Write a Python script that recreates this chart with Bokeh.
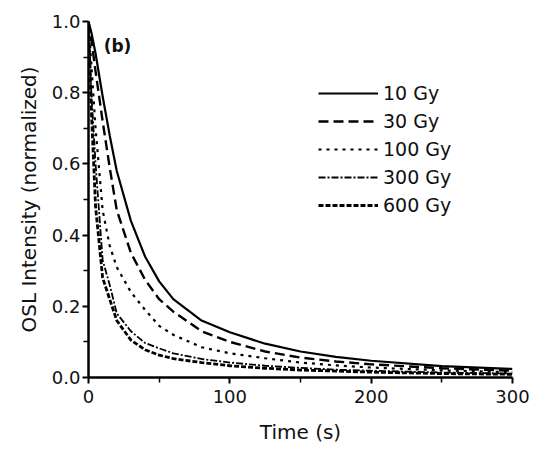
from bokeh.plotting import figure
from bokeh.models import Range1d, Legend, LegendItem, Label, NumeralTickFormatter, FixedTicker
from bokeh.embed import file_html
from bokeh.resources import INLINE

# Time (s)
time_s = [0, 2, 5, 10, 15, 20, 30, 40, 50, 60, 80, 100, 125, 150, 175, 200, 250, 300]

# Normalized OSL intensity for each dose
osl_10gy = [1.0, 0.97, 0.91, 0.79, 0.68, 0.58, 0.44, 0.34, 0.27, 0.22, 0.16, 0.127, 0.095, 0.073, 0.058, 0.047, 0.032, 0.024]
osl_30gy = [1.0, 0.95, 0.86, 0.72, 0.59, 0.47, 0.35, 0.275, 0.22, 0.185, 0.13, 0.10, 0.073, 0.056, 0.045, 0.037, 0.026, 0.019]
osl_100gy = [1.0, 0.88, 0.70, 0.47, 0.37, 0.31, 0.24, 0.19, 0.145, 0.12, 0.085, 0.068, 0.054, 0.042, 0.034, 0.028, 0.020, 0.015]
osl_300gy = [1.0, 0.80, 0.60, 0.33, 0.26, 0.18, 0.13, 0.097, 0.082, 0.068, 0.052, 0.042, 0.033, 0.027, 0.022, 0.019, 0.014, 0.011]
osl_600gy = [1.0, 0.75, 0.48, 0.28, 0.22, 0.16, 0.105, 0.078, 0.063, 0.053, 0.042, 0.033, 0.026, 0.021, 0.018, 0.015, 0.011, 0.009]

series_labels = ["10 Gy", "30 Gy", "100 Gy", "300 Gy", "600 Gy"]
series_values = [osl_10gy, osl_30gy, osl_100gy, osl_300gy, osl_600gy]
series_dash = ["solid", "10 5", "3 5", "7 2 2 2", "5 2"]
series_width = [2.2, 2.4, 2.2, 1.8, 2.8]

x_ticks = [0, 100, 200, 300]
x_minor = [50, 150, 250]
y_ticks = [0.0, 0.2, 0.4, 0.6, 0.8, 1.0]
y_minor = [0.1, 0.3, 0.5, 0.7, 0.9]

FONT = "DejaVu Sans"

p = figure(width=530, height=449, output_backend="svg", toolbar_location=None,
           x_range=Range1d(0, 300), y_range=Range1d(0, 1.0),
           min_border_left=88, min_border_right=18, min_border_top=21, min_border_bottom=72)
p.outline_line_color = None
p.xgrid.visible = False
p.ygrid.visible = False
p.background_fill_color = "white"
p.border_fill_color = "white"

items = []
for lab, vals, dash, w in zip(series_labels, series_values, series_dash, series_width):
    r = p.line(time_s, vals, line_color="black", line_width=w, line_dash=dash)
    items.append(LegendItem(label=lab, renderers=[r]))

legend = Legend(items=items, location=(230, 158), padding=0, margin=0,
                glyph_width=60, glyph_height=28, label_height=28, spacing=0,
                label_standoff=5, border_line_color=None, background_fill_alpha=0,
                label_text_font=FONT, label_text_font_size="19px", label_text_color="#111111")
p.add_layout(legend, "center")

for ax in (p.xaxis[0], p.yaxis[0]):
    ax.axis_line_width = 2.5
    ax.axis_line_color = "black"
    ax.major_tick_line_width = 2
    ax.minor_tick_line_width = 1.5
    ax.major_tick_in = 0
    ax.major_tick_out = 6
    ax.minor_tick_in = 0
    ax.minor_tick_out = 5
    ax.major_label_text_font = FONT
    ax.major_label_text_font_size = "18px"
    ax.major_label_text_color = "#111111"
    ax.axis_label_text_font = FONT
    ax.axis_label_text_font_size = "20px"
    ax.axis_label_text_font_style = "normal"
    ax.axis_label_text_color = "#111111"

p.xaxis.ticker = FixedTicker(ticks=x_ticks, minor_ticks=x_minor)
p.yaxis.ticker = FixedTicker(ticks=y_ticks, minor_ticks=y_minor)
p.yaxis.formatter = NumeralTickFormatter(format="0.0")
p.xaxis.axis_label = "Time (s)"
p.yaxis.axis_label = "OSL Intensity (normalized)"
p.xaxis.major_label_standoff = 6
p.yaxis.major_label_standoff = 2
p.xaxis.axis_label_standoff = 14
p.yaxis.axis_label_standoff = 8

panel = Label(x=29, y=332, x_units="screen", y_units="screen", text="(b)",
              text_font=FONT, text_font_size="17px", text_font_style="bold",
              text_color="#111111", text_align="center", text_baseline="middle")
p.add_layout(panel)

open("out.html", "w").write(file_html(p, INLINE))
